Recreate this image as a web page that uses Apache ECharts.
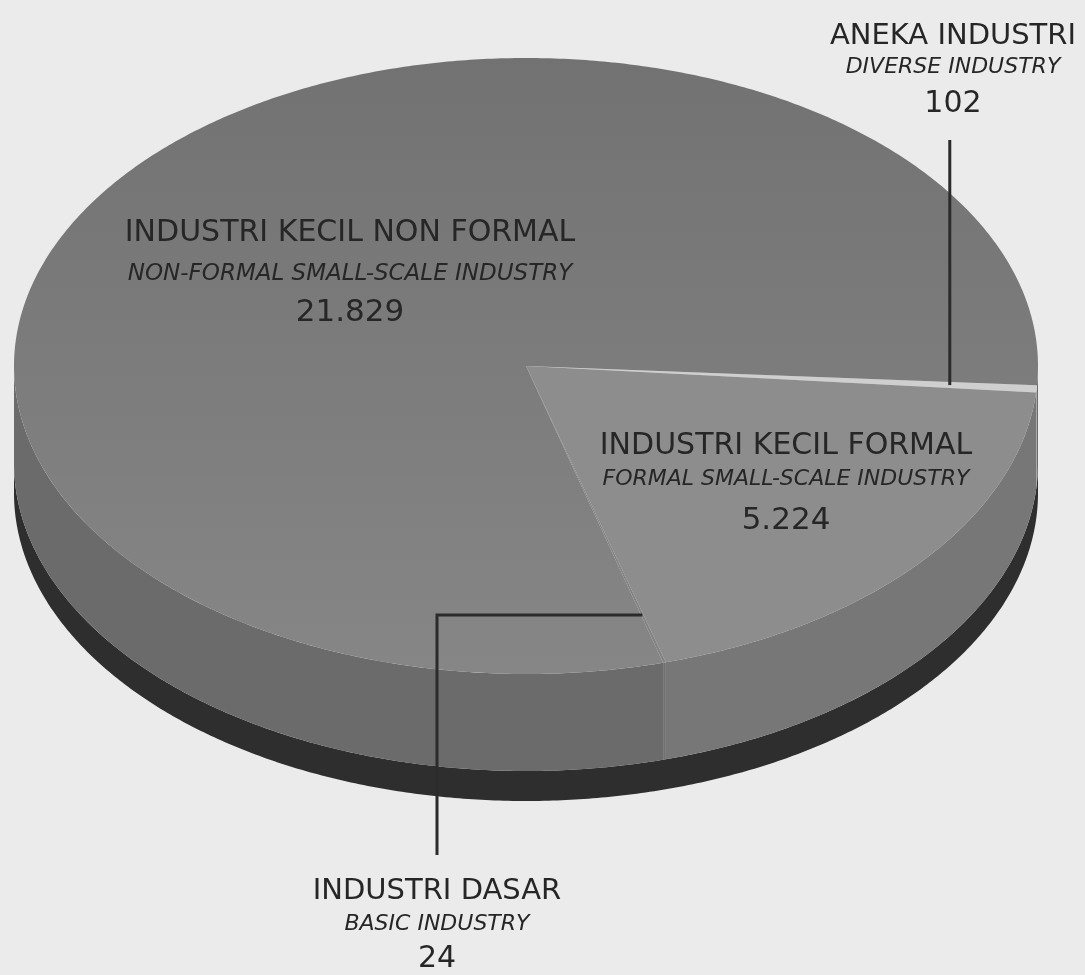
<!DOCTYPE html>
<html>
<head>
<meta charset="utf-8">
<script src="https://cdn.jsdelivr.net/npm/echarts@6/dist/echarts.min.js"></script>
<style>
  html, body { margin: 0; padding: 0; background: #ebebeb; }
  #chart { width: 1085px; height: 975px; }
</style>
</head>
<body>
<div id="chart"></div>
<script>
// Industrial units by group, listed clockwise from the 3 o'clock side
const namesId = ['ANEKA INDUSTRI', 'INDUSTRI KECIL FORMAL', 'INDUSTRI DASAR', 'INDUSTRI KECIL NON FORMAL'];
const namesEn = ['DIVERSE INDUSTRY', 'FORMAL SMALL-SCALE INDUSTRY', 'BASIC INDUSTRY', 'NON-FORMAL SMALL-SCALE INDUSTRY'];
const values = [102, 5224, 24, 21829];

// Appearance of each slice (top face, side wall)
const topColors = ['#cfcfcf', '#8d8d8d', '#838383', null];
const sideColors = ['#a8a8a8', '#777777', '#717171', '#6b6b6b'];

// Tilted disc geometry
const CX = 526, CY = 366, RX = 512, RY = 308;
const SIDE = 97, BASE = 30;
const START_DEG = 3.6;

// Label placement: centre x and the centre y of the three text lines
const labelPos = [
  { x: 953, y: [36, 67, 104], size: [29, 22, 30] },
  { x: 786, y: [446, 479, 521], size: [30, 22, 31] },
  { x: 437, y: [891, 924, 959], size: [29, 22, 30] },
  { x: 350, y: [233, 274, 313], size: [30, 23, 31] }
];
const ANEKA_LINE_TOP = 140;
const DASAR_ELBOW_X = 437, DASAR_LINE_BOTTOM = 855;

const fmt = v => String(v).replace(/\B(?=(\d{3})+(?!\d))/g, '.');

// Angular extent of each slice, proportional to its value
const total = values.reduce((a, b) => a + b, 0);
const slices = [];
let acc = START_DEG * Math.PI / 180;
values.forEach(v => {
  const span = v / total * Math.PI * 2;
  slices.push({ a1: acc, a2: acc + span });
  acc += span;
});

function pt(a, r, dy) {
  return [CX + RX * r * Math.cos(a), CY + RY * r * Math.sin(a) + dy];
}
function arcPts(a1, a2, dy) {
  const n = Math.max(2, Math.ceil((a2 - a1) / (Math.PI / 360)));
  const out = [];
  for (let k = 0; k <= n; k++) out.push(pt(a1 + (a2 - a1) * k / n, 1, dy));
  return out;
}

const textBase = { fontFamily: 'DejaVu Sans', fill: '#262626', align: 'center', verticalAlign: 'middle' };

const option = {
  backgroundColor: '#ebebeb',
  animation: false,
  series: [
    {
      // dark base rim under the disc
      type: 'custom', coordinateSystem: 'none', silent: true, z: 1,
      data: [0],
      renderItem() {
        const upper = arcPts(0, Math.PI, SIDE);
        const lower = arcPts(0, Math.PI, SIDE + BASE).reverse();
        return { type: 'polygon', shape: { points: upper.concat(lower) }, style: { fill: '#2e2e2e' } };
      }
    },
    {
      // visible side walls of each slice
      type: 'custom', coordinateSystem: 'none', silent: true, z: 2,
      data: values,
      renderItem(params) {
        const i = params.dataIndex, s = slices[i];
        const children = [];
        [[0, Math.PI], [2 * Math.PI, 3 * Math.PI]].forEach(([lo, hi]) => {
          const b1 = Math.max(s.a1, lo), b2 = Math.min(s.a2, hi);
          if (b2 > b1) {
            const up = arcPts(b1, b2, 0);
            const down = arcPts(b1, b2, SIDE).reverse();
            children.push({ type: 'polygon', shape: { points: up.concat(down) }, style: { fill: sideColors[i] } });
          }
        });
        return { type: 'group', children };
      }
    },
    {
      // top faces
      type: 'custom', coordinateSystem: 'none', silent: true, z: 3,
      data: values,
      renderItem(params) {
        const i = params.dataIndex, s = slices[i];
        const pts = [[CX, CY]].concat(arcPts(s.a1, s.a2, 0));
        const fill = topColors[i] || new echarts.graphic.LinearGradient(0, 0, 0, 1, [
          { offset: 0, color: '#727272' },
          { offset: 1, color: '#868686' }
        ]);
        return { type: 'polygon', shape: { points: pts }, style: { fill } };
      }
    },
    {
      // leader lines and labels
      type: 'custom', coordinateSystem: 'none', silent: true, z: 4,
      data: values,
      renderItem(params, api) {
        const i = params.dataIndex, s = slices[i];
        const mid = (s.a1 + s.a2) / 2;
        const lp = labelPos[i];
        const children = [];
        const lineStyle = { stroke: '#2b2b2b', lineWidth: 3, fill: null };
        if (i === 0) {
          const a = pt(mid, 0.83, 0);
          children.push({ type: 'polyline', shape: { points: [a, [a[0], ANEKA_LINE_TOP]] }, style: lineStyle });
        } else if (i === 2) {
          const a = pt(mid, 0.84, 0);
          children.push({ type: 'polyline', shape: { points: [a, [DASAR_ELBOW_X, a[1]], [DASAR_ELBOW_X, DASAR_LINE_BOTTOM]] }, style: lineStyle });
        }
        const lines = [namesId[i], namesEn[i], fmt(api.value(0))];
        lines.forEach((t, k) => {
          children.push({
            type: 'text', x: lp.x, y: lp.y[k],
            style: Object.assign({}, textBase, {
              text: t, fontSize: lp.size[k], fontStyle: k === 1 ? 'italic' : 'normal'
            })
          });
        });
        return { type: 'group', children };
      }
    }
  ]
};

const chart = echarts.init(document.getElementById('chart'), null, { renderer: 'canvas' });
chart.setOption(option);
</script>
</body>
</html>
